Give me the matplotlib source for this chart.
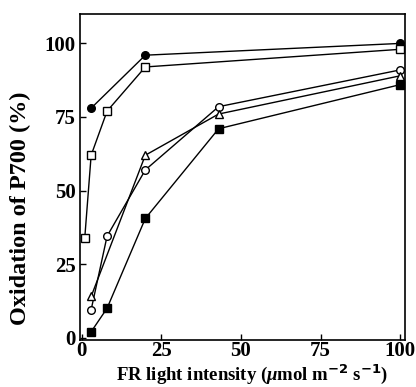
import matplotlib
matplotlib.use("Agg")
import matplotlib.pyplot as plt

plt.rcParams["font.family"] = "Liberation Serif"
plt.rcParams["font.weight"] = "bold"
plt.rcParams["mathtext.fontset"] = "custom"
plt.rcParams["mathtext.rm"] = "Liberation Serif:bold"
plt.rcParams["mathtext.it"] = "Liberation Serif:bold:italic"

# Dados
x_fc = [3, 20, 100]
y_fc = [78, 96, 100]
x_os = [1, 3, 8, 20, 100]
y_os = [34, 62, 77, 92, 98]
x_oc = [3, 8, 20, 43, 100]
y_oc = [9.5, 34.5, 57, 78.5, 91]
x_tr = [3, 20, 43, 100]
y_tr = [14, 62, 76, 89]
x_fs = [3, 8, 20, 43, 100]
y_fs = [2, 10, 40.5, 71, 86]

fig = plt.figure(figsize=(4.16, 3.87), dpi=100)
ax = fig.add_axes([80/416, 47/387, 325/416, 326/387])

kw = dict(color="black", lw=1, ms=5.5, mew=1)
ax.plot(x_fc, y_fc, marker="o", mfc="black", **kw)
ax.plot(x_os, y_os, marker="s", mfc="white", **kw)
ax.plot(x_oc, y_oc, marker="o", mfc="white", **kw)
ax.plot(x_tr, y_tr, marker="^", mfc="white", **kw)
ax.plot(x_fs, y_fs, marker="s", mfc="black", **kw)

ax.set_xlim(-0.5, 101.5)
ax.set_ylim(-0.8, 110)
ax.set_xticks([0, 25, 50, 75, 100])
ax.set_yticks([0, 25, 50, 75, 100])
ax.tick_params(direction="in", length=4, labelsize=15, width=1, pad=3)
ax.tick_params(axis="x", pad=1)
for s in ax.spines.values():
    s.set_linewidth(1.2)

ax.set_xlabel(r"FR light intensity ($\mathit{\mu}$mol m$^{\mathbf{-2}}$ s$^{\mathbf{-1}}$)",
              fontsize=13.5, fontweight="bold")
ax.set_ylabel("Oxidation of P700 (%)", fontsize=17.5, fontweight="bold")
ax.xaxis.set_label_coords(0.53, -0.071)
ax.yaxis.set_label_coords(-0.15, 0.405)

plt.savefig("out.png", dpi=100)
